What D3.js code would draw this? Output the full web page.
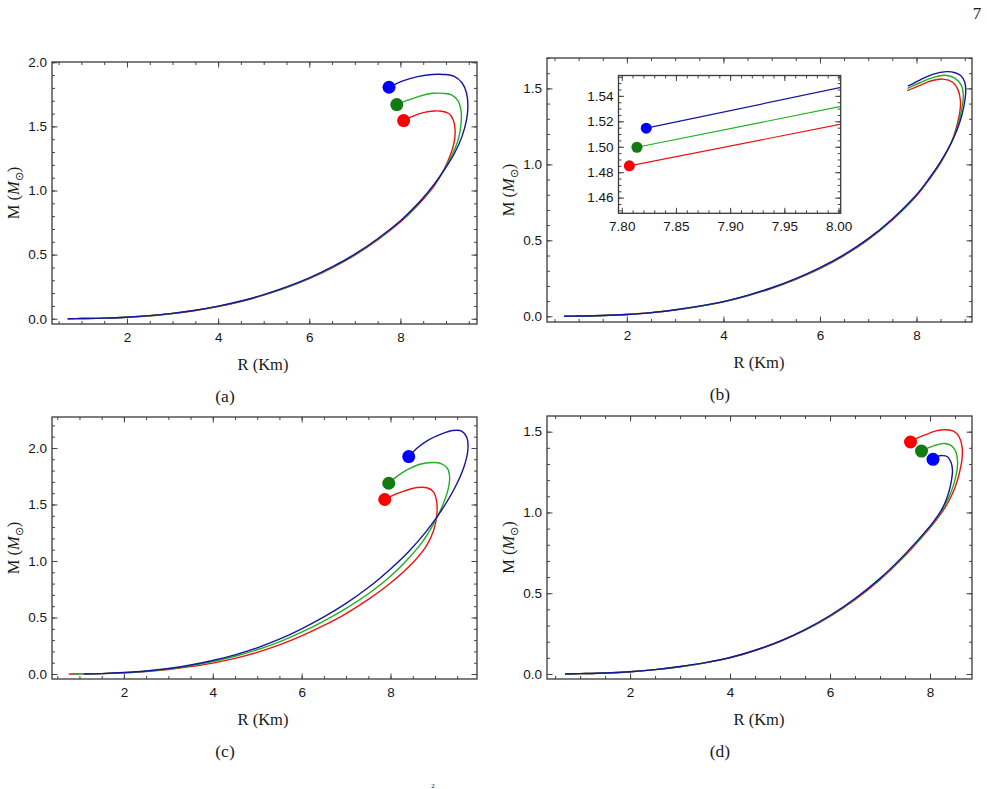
<!DOCTYPE html>
<html>
<head>
<meta charset="utf-8">
<script src="https://cdn.jsdelivr.net/npm/d3@7"></script>
<style>
	body { margin: 0; background: #fff; }
	svg { display: block; }
	.tick text { font-family: "Liberation Sans", Arial, sans-serif; font-size: 13.5px; fill: #151515; }
	.tick line { stroke: #444; }
	.lbl { font-family: "Liberation Serif", "Times New Roman", serif; fill: #1a1a1a; }
</style>
</head>
<body>
<svg id="fig" width="987" height="789"></svg>
<script>
// ---- data: [R (km), M (Msun)] ----
var aRed = [[0.7,0],[1,0.0015],[1.5,0.005],[2,0.012],[2.5,0.023],[3,0.041],[3.5,0.064],[4,0.095],[4.5,0.134],[5,0.184],[5.5,0.242],[6,0.312],[6.5,0.396],[7,0.496],[7.5,0.615],[8,0.754],[8.25,0.838],[8.5,0.932],[8.75,1.04],[8.95,1.16],[9.1,1.28],[9.18,1.38],[9.2,1.47],[9.16,1.55],[9.06,1.60],[8.9,1.618],[8.75,1.62],[8.5,1.607],[8.28,1.58],[8.07,1.545]];
var aGreen = [[0.7,0],[1,0.0015],[1.5,0.005],[2,0.012],[2.5,0.023],[3,0.041],[3.5,0.065],[4,0.096],[4.5,0.136],[5,0.186],[5.5,0.245],[6,0.315],[6.5,0.40],[7,0.50],[7.5,0.62],[8,0.76],[8.25,0.845],[8.5,0.94],[8.75,1.05],[8.98,1.175],[9.15,1.29],[9.27,1.40],[9.33,1.52],[9.33,1.62],[9.26,1.70],[9.12,1.745],[8.95,1.757],[8.72,1.758],[8.45,1.738],[8.18,1.706],[7.92,1.67]];
var aBlue = [[0.7,0],[1,0.0015],[1.5,0.005],[2,0.012],[2.5,0.024],[3,0.042],[3.5,0.066],[4,0.098],[4.5,0.138],[5,0.188],[5.5,0.248],[6,0.318],[6.5,0.404],[7,0.504],[7.5,0.624],[8,0.764],[8.25,0.849],[8.5,0.944],[8.75,1.054],[9.0,1.18],[9.2,1.30],[9.35,1.42],[9.45,1.55],[9.48,1.66],[9.45,1.76],[9.35,1.84],[9.18,1.89],[8.95,1.905],[8.7,1.905],[8.4,1.89],[8.07,1.857],[7.75,1.805]];

var bRed = [[0.7,0],[1,0.0015],[1.5,0.005],[2,0.012],[2.5,0.023],[3,0.041],[3.5,0.065],[4,0.095],[4.5,0.135],[5,0.184],[5.5,0.244],[6,0.314],[6.5,0.40],[7,0.505],[7.5,0.634],[8,0.793],[8.25,0.895],[8.5,1.01],[8.73,1.15],[8.84,1.26],[8.9,1.35],[8.91,1.42],[8.86,1.49],[8.75,1.54],[8.55,1.561],[8.31,1.55],[8.07,1.52],[7.807,1.485]];
var bGreen = [[0.7,0],[1,0.0015],[1.5,0.005],[2,0.012],[2.5,0.024],[3,0.042],[3.5,0.066],[4,0.096],[4.5,0.137],[5,0.186],[5.5,0.246],[6,0.317],[6.5,0.403],[7,0.508],[7.5,0.638],[8,0.797],[8.25,0.899],[8.5,1.015],[8.74,1.155],[8.87,1.27],[8.94,1.37],[8.97,1.45],[8.93,1.52],[8.8,1.566],[8.6,1.586],[8.35,1.572],[8.07,1.537],[7.814,1.4996]];
var bBlue = [[0.7,0],[1,0.0015],[1.5,0.005],[2,0.012],[2.5,0.024],[3,0.043],[3.5,0.067],[4,0.097],[4.5,0.138],[5,0.188],[5.5,0.248],[6,0.32],[6.5,0.406],[7,0.511],[7.5,0.641],[8,0.80],[8.25,0.902],[8.5,1.018],[8.75,1.16],[8.9,1.28],[8.98,1.38],[9.02,1.48],[9.0,1.54],[8.92,1.583],[8.8,1.603],[8.62,1.61],[8.35,1.594],[8.07,1.555],[7.822,1.5146]];

var insetRed = [[7.807,1.485],[8.01,1.519]];
var insetGreen = [[7.814,1.4996],[8.01,1.533]];
var insetBlue = [[7.8226,1.5146],[8.01,1.548]];

var cRed = [[0.76,0],[1,0.001],[1.5,0.004],[2,0.011],[2.5,0.022],[3,0.04],[3.5,0.065],[4,0.097],[4.5,0.139],[5,0.192],[5.5,0.258],[6,0.338],[6.5,0.43],[7,0.535],[7.5,0.66],[8,0.805],[8.5,0.985],[8.8,1.13],[8.97,1.27],[9.04,1.40],[9.04,1.52],[8.97,1.61],[8.82,1.648],[8.6,1.65],[8.3,1.618],[8.05,1.58],[7.87,1.544]];
var cGreen = [[0.85,0],[1,0.001],[1.5,0.004],[2,0.012],[2.5,0.025],[3,0.045],[3.5,0.073],[4,0.11],[4.5,0.157],[5,0.215],[5.5,0.285],[6,0.37],[6.5,0.468],[7,0.58],[7.5,0.71],[8,0.865],[8.35,1.0],[8.7,1.16],[9.0,1.35],[9.18,1.5],[9.3,1.64],[9.33,1.74],[9.28,1.82],[9.15,1.86],[8.96,1.871],[8.66,1.856],[8.36,1.803],[8.1,1.735],[7.96,1.688]];
var cBlue = [[1.1,0],[1.5,0.004],[2,0.013],[2.5,0.027],[3,0.049],[3.5,0.08],[4,0.12],[4.5,0.17],[5,0.232],[5.5,0.308],[6,0.40],[6.5,0.505],[7,0.625],[7.5,0.765],[8,0.93],[8.4,1.08],[8.8,1.26],[9.15,1.45],[9.45,1.65],[9.65,1.83],[9.74,1.98],[9.72,2.09],[9.6,2.15],[9.4,2.155],[9.15,2.125],[8.85,2.07],[8.6,2.0],[8.41,1.924]];

var dRed = [[0.7,0],[1,0.002],[1.5,0.006],[2,0.014],[2.5,0.027],[3,0.045],[3.5,0.069],[4,0.10],[4.5,0.145],[5,0.201],[5.5,0.271],[6,0.357],[6.5,0.46],[7,0.584],[7.5,0.732],[8,0.905],[8.1,0.943],[8.2,0.985],[8.3,1.03],[8.4,1.085],[8.5,1.155],[8.58,1.235],[8.64,1.33],[8.64,1.41],[8.58,1.47],[8.47,1.503],[8.32,1.512],[8.12,1.505],[7.9,1.48],[7.72,1.457],[7.61,1.436]];
var dGreen = [[0.7,0],[1,0.002],[1.5,0.006],[2,0.014],[2.5,0.027],[3,0.045],[3.5,0.069],[4,0.101],[4.5,0.146],[5,0.203],[5.5,0.273],[6,0.36],[6.5,0.464],[7,0.588],[7.5,0.737],[8,0.91],[8.1,0.95],[8.2,0.993],[8.3,1.045],[8.4,1.11],[8.48,1.18],[8.54,1.26],[8.55,1.32],[8.51,1.38],[8.42,1.415],[8.28,1.427],[8.1,1.415],[7.95,1.398],[7.83,1.38]];
var dBlue = [[0.7,0],[1,0.002],[1.5,0.006],[2,0.014],[2.5,0.027],[3,0.046],[3.5,0.07],[4,0.102],[4.5,0.147],[5,0.204],[5.5,0.275],[6,0.362],[6.5,0.467],[7,0.592],[7.5,0.742],[8,0.915],[8.1,0.955],[8.2,1.0],[8.3,1.06],[8.38,1.13],[8.43,1.2],[8.45,1.26],[8.42,1.31],[8.35,1.345],[8.25,1.352],[8.15,1.347],[8.06,1.329]];

// tick labels
var rTicks = [2, 4, 6, 8];
var mTicksA = [0, 0.5, 1.0, 1.5, 2.0];
var mTicksB = [0, 0.5, 1.0, 1.5];
var insetRTicks = [7.80, 7.85, 7.90, 7.95, 8.00];
var insetMTicks = [1.46, 1.48, 1.50, 1.52, 1.54];

var lineColors = ["#ee1111", "#1fb01f", "#1515a0"];
var dotColors = ["#ff0000", "#117a11", "#0000ff"];

var svg = d3.select('#fig');

function minorVals(dom, step){
	var lo = Math.ceil(dom[0] / step - 1e-9), hi = Math.floor(dom[1] / step + 1e-9);
	return d3.range(lo, hi + 1).map(function(i){ return +(i * step).toFixed(4); });
}

function panel(p){
	var g = svg.append('g');
	var b = p.box;
	var x = d3.scaleLinear().domain(p.xDom).range([b[0], b[2]]);
	var y = d3.scaleLinear().domain(p.yDom).range([b[3], b[1]]);

	g.append('rect')
		.attr('x', b[0]).attr('y', b[1])
		.attr('width', b[2] - b[0]).attr('height', b[3] - b[1])
		.attr('fill', '#fff');

	var clipId = 'clip' + p.id;
	g.append('clipPath').attr('id', clipId)
		.append('rect')
		.attr('x', b[0]).attr('y', b[1])
		.attr('width', b[2] - b[0]).attr('height', b[3] - b[1]);

	var xMinor = minorVals(p.xDom, p.xStep), yMinor = minorVals(p.yDom, p.yStep);

	function ax(gen, scale, vals, size, fmt, tx, ty, pad){
		var a = g.append('g')
			.attr('transform', 'translate(' + tx + ',' + ty + ')')
			.call(gen(scale).tickValues(vals).tickSize(size).tickPadding(pad || 3).tickFormat(fmt));
		a.select('.domain').remove();
		a.selectAll('.tick line').attr('stroke-width', 1);
		return a;
	}
	var none = function(){ return ''; };
	// minor ticks all four sides
	ax(d3.axisBottom, x, xMinor, -3, none, 0, b[3]);
	ax(d3.axisTop, x, xMinor, -3, none, 0, b[1]);
	ax(d3.axisLeft, y, yMinor, -3, none, b[0], 0);
	ax(d3.axisRight, y, yMinor, -3, none, b[2], 0);
	// major ticks
	ax(d3.axisBottom, x, p.xTicks, -5.5, d3.format(p.xFmt), 0, b[3], 8);
	ax(d3.axisTop, x, p.xTicks, -5.5, none, 0, b[1]);
	ax(d3.axisLeft, y, p.yTicks, -5.5, d3.format(p.yFmt), b[0], 0, 5);
	ax(d3.axisRight, y, p.yTicks, -5.5, none, b[2], 0);

	var line = d3.line()
		.x(function(d){ return x(d[0]); })
		.y(function(d){ return y(d[1]); })
		.curve(d3.curveCatmullRom.alpha(0.5));

	var plot = g.append('g').attr('clip-path', 'url(#' + clipId + ')');
	plot.selectAll('path.curve')
		.data(p.series)
		.enter().append('path')
		.attr('class', 'curve')
		.attr('d', line)
		.attr('fill', 'none')
		.attr('stroke', function(d, i){ return lineColors[i]; })
		.attr('stroke-width', p.lw);

	if (p.dots) {
		g.selectAll('circle.dot')
			.data(p.series)
			.enter().append('circle')
			.attr('class', 'dot')
			.attr('cx', function(d){ return x(d[p.dotEnd ? d.length - 1 : 0][0]); })
			.attr('cy', function(d){ return y(d[p.dotEnd ? d.length - 1 : 0][1]); })
			.attr('r', p.r)
			.attr('fill', function(d, i){ return dotColors[i]; });
	}

	g.append('rect')
		.attr('x', b[0]).attr('y', b[1])
		.attr('width', b[2] - b[0]).attr('height', b[3] - b[1])
		.attr('fill', 'none')
		.attr('stroke', '#3a3a3a')
		.attr('stroke-width', 1.3);

	if (p.labels) {
		var cy = (b[1] + b[3]) / 2;
		g.append('text').attr('class', 'lbl')
			.attr('x', p.xlabX).attr('y', b[3] + 46)
			.attr('text-anchor', 'middle')
			.attr('font-size', 16.5)
			.text('R (Km)');

		var yl = g.append('text').attr('class', 'lbl')
			.attr('transform', 'translate(' + (b[0] - 33) + ',' + cy + ') rotate(-90)')
			.attr('text-anchor', 'middle')
			.attr('font-size', 16.5);
		yl.append('tspan').text('M (');
		yl.append('tspan').attr('font-style', 'italic').text('M');
		yl.append('tspan').attr('font-size', 11).attr('dy', 4).text('\u2299');
		yl.append('tspan').attr('dy', -4).text(')');

		g.append('text').attr('class', 'lbl')
			.attr('x', p.capX).attr('y', b[3] + 78)
			.attr('text-anchor', 'middle')
			.attr('font-size', 17.5)
			.text(p.caption);
	}
}

panel({id: 'a', box: [52, 62, 477, 324], xDom: [0.355, 9.68], yDom: [-0.041, 2.002],
	xTicks: rTicks, yTicks: mTicksA, xStep: 0.5, yStep: 0.1, xFmt: 'd', yFmt: '.1f',
	series: [aRed, aGreen, aBlue], dots: true, dotEnd: true, r: 6.5, lw: 1.4,
	labels: true, caption: '(a)', xlabX: 263, capX: 225});

panel({id: 'b', box: [547, 58, 972, 322], xDom: [0.345, 9.15], yDom: [-0.0375, 1.70],
	xTicks: rTicks, yTicks: mTicksB, xStep: 0.5, yStep: 0.1, xFmt: 'd', yFmt: '.1f',
	series: [bRed, bGreen, bBlue], dots: false, lw: 1.4,
	labels: true, caption: '(b)', xlabX: 759, capX: 720});

panel({id: 'inset', box: [618.5, 75.5, 840.7, 213.3], xDom: [7.797, 8.002], yDom: [1.4477, 1.556],
	xTicks: insetRTicks, yTicks: insetMTicks, xStep: 0.01, yStep: 0.005, xFmt: '.2f', yFmt: '.2f',
	series: [insetRed, insetGreen, insetBlue], dots: true, dotEnd: false, r: 5.5, lw: 1.2,
	labels: false});

panel({id: 'c', box: [52, 417, 477, 679], xDom: [0.382, 9.946], yDom: [-0.044, 2.274],
	xTicks: rTicks, yTicks: mTicksA, xStep: 0.5, yStep: 0.1, xFmt: 'd', yFmt: '.1f',
	series: [cRed, cGreen, cBlue], dots: true, dotEnd: true, r: 6.5, lw: 1.4,
	labels: true, caption: '(c)', xlabX: 263, capX: 225});

panel({id: 'd', box: [547, 416, 972, 679], xDom: [0.338, 8.84], yDom: [-0.031, 1.597],
	xTicks: rTicks, yTicks: mTicksB, xStep: 0.5, yStep: 0.1, xFmt: 'd', yFmt: '.1f',
	series: [dRed, dGreen, dBlue], dots: true, dotEnd: true, r: 6.5, lw: 1.4,
	labels: true, caption: '(d)', xlabX: 759, capX: 720});

// page number and the small superscript at the page foot
svg.append('text').attr('class', 'lbl')
	.attr('x', 977).attr('y', 19)
	.attr('text-anchor', 'middle')
	.attr('font-size', 17)
	.text('7');
svg.append('text').attr('class', 'lbl')
	.attr('x', 433).attr('y', 788)
	.attr('text-anchor', 'middle')
	.attr('font-size', 7)
	.text('2');
</script>
</body>
</html>
